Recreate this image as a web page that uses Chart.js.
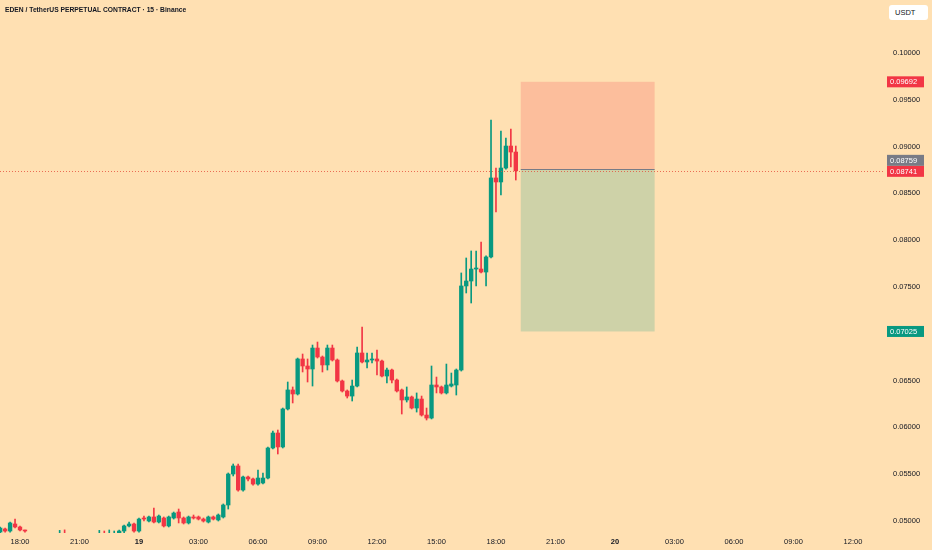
<!DOCTYPE html>
<html>
<head>
<meta charset="utf-8">
<script src="https://cdn.jsdelivr.net/npm/chart.js@4.4.0/dist/chart.umd.min.js"></script>
<style>
body { margin: 0; background: #FFE0B2; }
#wrap { position: relative; width: 932px; height: 550px; }
#title {
    position: absolute; left: 5px; top: 5px;
    font: bold 8px "Liberation Sans", sans-serif; color: #131722;
    white-space: nowrap; transform: scaleX(0.84); transform-origin: left top;
}
#unit {
    position: absolute; left: 889px; top: 5px; width: 39px; height: 15px;
    background: #fff; border-radius: 3px; box-sizing: border-box; padding-left: 6px;
    font: 7.5px "Liberation Sans", sans-serif; line-height: 15px; color: #131722;
}
</style>
</head>
<body>
<div id="wrap">
<canvas id="chart" width="932" height="550"></canvas>
<div id="title">EDEN / TetherUS PERPETUAL CONTRACT · 15 · Binance</div>
<div id="unit">USDT</div>
</div>
<script>
// 15 minute candles, index 0 = 18:00 on the 18th
const firstIdx = -4;

const opens = [
0.04882,0.04915,0.04893,0.04968,0.04936,0.04904,0.04865,0.04840,0.04850,0.04835,
0.04848,0.04855,0.04845,0.04858,0.04850,0.04838,0.04846,0.04840,0.04852,0.04845,
0.04855,0.04862,0.04855,0.04865,0.04862,0.04893,0.04947,0.04968,0.04893,0.05032,
0.05000,0.05043,0.04989,0.05032,0.04947,0.05032,0.05096,0.05032,0.04979,0.05043,
0.05043,0.05021,0.04989,0.05043,0.05011,0.05043,0.05171,0.05502,0.05588,0.05331,
0.05470,0.05449,0.05395,0.05406,0.05459,0.05780,0.05940,0.05791,0.06197,0.06400,
0.06357,0.06731,0.06656,0.06624,0.06848,0.06752,0.06667,0.06848,0.06720,0.06496,
0.06389,0.06335,0.06442,0.06795,0.06699,0.06720,0.06731,0.06709,0.06549,0.06613,
0.06506,0.06400,0.06293,0.06325,0.06207,0.06303,0.06132,0.06100,0.06453,0.06432,
0.06368,0.06442,0.06453,0.06613,0.07511,0.07564,0.07692,0.07692,0.07660,0.07821,
0.08665,0.08622,0.08771,0.09006,0.08942
];
const highs = [
0.04936,0.04925,0.04989,0.05021,0.04947,0.04904,0.04868,0.04860,0.04858,0.04855,
0.04862,0.04866,0.04900,0.04905,0.04862,0.04860,0.04858,0.04863,0.04860,0.04865,
0.04900,0.04893,0.04904,0.04893,0.04904,0.04957,0.04989,0.04979,0.05032,0.05053,
0.05053,0.05139,0.05064,0.05043,0.05053,0.05096,0.05128,0.05043,0.05053,0.05064,
0.05053,0.05032,0.05053,0.05053,0.05075,0.05182,0.05513,0.05609,0.05609,0.05481,
0.05481,0.05459,0.05545,0.05513,0.05791,0.05961,0.05972,0.06207,0.06485,0.06432,
0.06741,0.06784,0.06731,0.06880,0.06912,0.06763,0.06880,0.06880,0.06731,0.06506,
0.06400,0.06506,0.06859,0.07073,0.06795,0.06795,0.06827,0.06720,0.06635,0.06624,
0.06517,0.06410,0.06432,0.06335,0.06368,0.06335,0.06207,0.06656,0.06538,0.06442,
0.06677,0.06581,0.06624,0.07650,0.07810,0.07885,0.07885,0.07981,0.07832,0.09284,
0.08771,0.09167,0.09092,0.09188,0.09006
];
const lows = [
0.04871,0.04882,0.04882,0.04925,0.04893,0.04882,0.04820,0.04830,0.04825,0.04828,
0.04840,0.04838,0.04840,0.04842,0.04830,0.04832,0.04833,0.04835,0.04838,0.04840,
0.04848,0.04850,0.04850,0.04858,0.04858,0.04871,0.04936,0.04882,0.04882,0.05000,
0.04989,0.04979,0.04979,0.04936,0.04936,0.05021,0.04979,0.04968,0.04968,0.05021,
0.05011,0.04989,0.04979,0.05011,0.05000,0.05032,0.05128,0.05481,0.05320,0.05320,
0.05427,0.05384,0.05384,0.05395,0.05449,0.05770,0.05716,0.05780,0.06186,0.06261,
0.06346,0.06592,0.06485,0.06442,0.06741,0.06592,0.06613,0.06709,0.06485,0.06378,
0.06314,0.06282,0.06432,0.06688,0.06635,0.06688,0.06560,0.06538,0.06474,0.06474,
0.06378,0.06143,0.06271,0.06197,0.06164,0.06121,0.06079,0.06090,0.06368,0.06357,
0.06357,0.06432,0.06346,0.06602,0.07436,0.07329,0.07511,0.07650,0.07511,0.07810,
0.08301,0.08483,0.08760,0.08782,0.08643
];
const closes = [
0.04925,0.04893,0.04979,0.04936,0.04904,0.04893,0.04840,0.04850,0.04835,0.04848,
0.04855,0.04845,0.04858,0.04850,0.04838,0.04846,0.04840,0.04852,0.04845,0.04855,
0.04862,0.04855,0.04865,0.04868,0.04893,0.04947,0.04968,0.04893,0.05021,0.05021,
0.05043,0.04989,0.05053,0.04947,0.05043,0.05085,0.05032,0.04979,0.05043,0.05032,
0.05021,0.05000,0.05043,0.05021,0.05064,0.05171,0.05502,0.05588,0.05331,0.05470,
0.05449,0.05395,0.05459,0.05459,0.05780,0.05940,0.05791,0.06197,0.06400,0.06357,
0.06731,0.06656,0.06624,0.06848,0.06752,0.06667,0.06848,0.06720,0.06496,0.06389,
0.06335,0.06442,0.06795,0.06699,0.06720,0.06731,0.06709,0.06549,0.06613,0.06506,
0.06389,0.06293,0.06325,0.06207,0.06303,0.06132,0.06100,0.06453,0.06432,0.06368,
0.06453,0.06464,0.06613,0.07511,0.07564,0.07692,0.07703,0.07660,0.07821,0.08665,
0.08622,0.08771,0.09006,0.08942,0.08741
];

// x axis: one tick every 12 candles (3 hours)
const timeTicks = [0, 12, 24, 36, 48, 60, 72, 84, 96, 108, 120, 132, 144, 156, 168];
const timeLabels = ["18:00","21:00","19","03:00","06:00","09:00","12:00","15:00",
                    "18:00","21:00","20","03:00","06:00","09:00","12:00"];
const dayTicks = [24, 120];

const priceTicks = [0.05, 0.055, 0.06, 0.065, 0.075, 0.08, 0.085, 0.09, 0.095, 0.10];
const priceLabels = ["0.05000","0.05500","0.06000","0.06500","0.07500",
                     "0.08000","0.08500","0.09000","0.09500","0.10000"];

// long/short position tool
const posStart = 101;
const posEnd = 128;
const stopPrice = 0.09692;
const entryPrice = 0.08759;
const targetPrice = 0.07025;
const lastPrice = 0.08741;

const upColor = "#089981";
const downColor = "#F23645";

const wicks = [];
const bodies = [];
const colors = [];
for (let i = 0; i < opens.length; i++) {
    const x = firstIdx + i;
    wicks.push({ x: x, y: [lows[i], highs[i]] });
    bodies.push({ x: x, y: [opens[i], closes[i]] });
    colors.push(closes[i] >= opens[i] ? upColor : downColor);
}

function priceTag(ctx, area, yPix, text, bg) {
    ctx.fillStyle = bg;
    ctx.fillRect(area.right + 4, yPix - 5.5, 37, 11);
    ctx.fillStyle = "#ffffff";
    ctx.font = '7.5px "Liberation Sans", sans-serif';
    ctx.textBaseline = "middle";
    ctx.textAlign = "left";
    ctx.fillText(text, area.right + 7, yPix + 0.5);
}

const positionPlugin = {
    id: "position",
    beforeDatasetsDraw(chart) {
        const ctx = chart.ctx;
        const xs = chart.scales.x;
        const ys = chart.scales.y;
        const x0 = xs.getPixelForValue(posStart);
        const x1 = xs.getPixelForValue(posEnd);
        const yStop = ys.getPixelForValue(stopPrice);
        const yEntry = ys.getPixelForValue(entryPrice);
        const yTarget = ys.getPixelForValue(targetPrice);
        ctx.save();
        ctx.fillStyle = "rgba(242,54,69,0.2)";
        ctx.fillRect(x0, yStop, x1 - x0, yEntry - yStop);
        ctx.fillStyle = "rgba(8,153,129,0.2)";
        ctx.fillRect(x0, yEntry, x1 - x0, yTarget - yEntry);
        ctx.strokeStyle = "#787B86";
        ctx.lineWidth = 1;
        ctx.beginPath();
        ctx.moveTo(x0, Math.round(yEntry) + 0.5);
        ctx.lineTo(x1, Math.round(yEntry) + 0.5);
        ctx.stroke();
        ctx.restore();
    },
    afterDraw(chart) {
        const ctx = chart.ctx;
        const area = chart.chartArea;
        const ys = chart.scales.y;
        const yLast = ys.getPixelForValue(lastPrice);
        ctx.save();
        ctx.strokeStyle = "rgba(230,80,60,0.8)";
        ctx.setLineDash([1, 2]);
        ctx.lineWidth = 1;
        ctx.beginPath();
        ctx.moveTo(area.left, Math.round(yLast) + 0.5);
        ctx.lineTo(area.right, Math.round(yLast) + 0.5);
        ctx.stroke();
        ctx.setLineDash([]);

        priceTag(ctx, area, ys.getPixelForValue(stopPrice), stopPrice.toFixed(5), downColor);
        priceTag(ctx, area, yLast + 0.5, lastPrice.toFixed(5), downColor);
        priceTag(ctx, area, yLast - 10.5, entryPrice.toFixed(5), "#787B86");
        priceTag(ctx, area, ys.getPixelForValue(targetPrice), targetPrice.toFixed(5), upColor);
        ctx.restore();
    }
};

new Chart(document.getElementById("chart"), {
    type: "bar",
    data: {
        datasets: [
            {
                data: wicks,
                backgroundColor: colors,
                barThickness: 1,
                grouped: false
            },
            {
                data: bodies,
                backgroundColor: colors,
                barThickness: 3.7,
                grouped: false
            }
        ]
    },
    options: {
        responsive: false,
        animation: false,
        layout: { padding: 0 },
        plugins: {
            legend: { display: false },
            tooltip: { enabled: false }
        },
        scales: {
            x: {
                type: "linear",
                offset: false,
                min: -4.034,
                max: 174.06,
                grid: { display: false, drawTicks: false },
                border: { display: false },
                afterBuildTicks: s => { s.ticks = timeTicks.map(v => ({ value: v })); },
                afterFit: s => { s.height = 17; s.paddingLeft = 0; s.paddingRight = 0; },
                ticks: {
                    padding: 4,
                    maxRotation: 0,
                    autoSkip: false,
                    color: "#131722",
                    font: c => ({
                        family: '"Liberation Sans", sans-serif',
                        size: 7.5,
                        weight: dayTicks.includes(c.tick && c.tick.value) ? "bold" : "normal"
                    }),
                    callback: v => timeLabels[timeTicks.indexOf(v)]
                }
            },
            y: {
                position: "right",
                min: 0.048718,
                max: 0.105662,
                grid: { display: false, drawTicks: false },
                border: { display: false },
                afterBuildTicks: s => { s.ticks = priceTicks.map(v => ({ value: v })); },
                afterFit: s => { s.width = 49; s.paddingTop = 0; s.paddingBottom = 0; },
                ticks: {
                    padding: 10,
                    color: "#131722",
                    font: { family: '"Liberation Sans", sans-serif', size: 7.5 },
                    callback: v => priceLabels[priceTicks.indexOf(v)]
                }
            }
        }
    },
    plugins: [positionPlugin]
});
</script>
</body>
</html>
